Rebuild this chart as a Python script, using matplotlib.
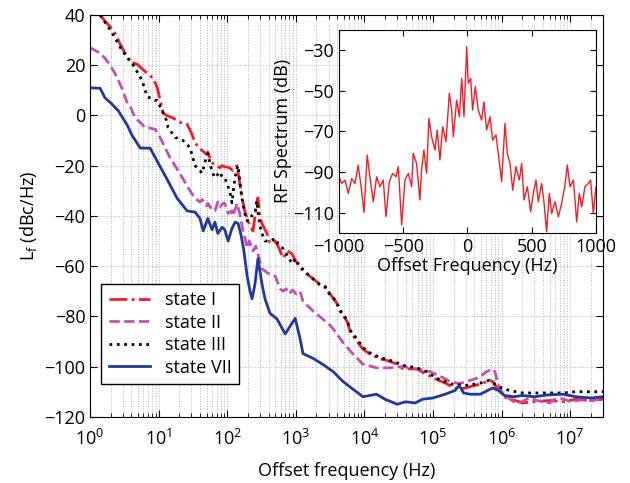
import numpy as np
import matplotlib
matplotlib.use('Agg')
import matplotlib.pyplot as plt

plt.rcParams['font.family'] = ['Open Sans', 'DejaVu Sans']
plt.rcParams['font.size'] = 13
plt.rcParams['mathtext.default'] = 'regular'

# ---- main plot data (offset frequency in Hz, L_f in dBc/Hz) ----
f_state1 = [1.4, 1.6, 2.0, 2.3, 2.7, 3.2, 3.8, 4.8, 5.5, 6.8, 8.3, 9.5, 11.6, 13, 15.6,
            18.6, 22, 26, 30, 34, 43, 50, 52, 58, 62, 70, 78, 84, 92, 99, 110, 121, 139,
            150, 164, 180, 200, 237, 260, 280, 300, 320, 380, 420, 500, 550, 650, 760, 870,
            1000, 1270, 1600, 2250, 2700, 3150, 3900, 4400, 5600, 6200, 7800, 9500, 12000,
            17000, 21000, 30000, 36000, 58000, 80000, 1.1e5, 1.5e5, 1.9e5, 2.4e5, 3e5, 4e5,
            5e5, 6.6e5, 7.5e5, 8.5e5, 1e6, 1.2e6, 1.6e6, 2e6, 3e6, 5e6, 8e6, 1.2e7, 2e7, 3e7]
L_state1 = [40, 38, 35, 32.8, 28.8, 25, 21.2, 20.5, 19, 16.8, 14.8, 11.2, 1, 0, -0.8,
            -2, -3.2, -3.5, -7, -11, -14, -15.5, -14.5, -18, -19.2, -20, -20.8, -20, -20.5,
            -20.5, -21, -22, -20, -26, -32.8, -38, -42, -46, -38, -32.8, -40, -43, -47, -51,
            -50, -52, -56.8, -54, -55, -58, -62, -64, -67.2, -68, -71, -74.5, -78, -82, -86,
            -90, -93, -95, -97, -97.5, -99, -100.8, -101, -103, -105, -106.5, -108, -109,
            -108.5, -107.5, -107, -105.5, -106, -108.5, -110.5, -112.8, -113.5, -114.5, -114,
            -113.5, -114, -113, -113.5, -113]

f_state2 = [1, 1.4, 1.65, 1.96, 2.3, 2.7, 2.9, 3.5, 3.8, 4.5, 5.4, 6.3, 6.8, 8.9, 10.5,
            14.6, 20.5, 28.6, 34, 40, 43, 50, 52, 62, 66, 73, 78, 87, 92, 103, 117, 121, 139,
            153, 170, 182, 195, 210, 237, 260, 320, 390, 420, 500, 590, 650, 720, 800, 900,
            1000, 1150, 1270, 1800, 2500, 3150, 3500, 4900, 6800, 9500, 15000, 23000, 36000,
            60000, 90000, 1.3e5, 1.8e5, 2.4e5, 3e5, 3.8e5, 4.9e5, 6e5, 7.4e5, 8e5, 8.8e5,
            1e6, 1.3e6, 1.5e6, 2e6, 2.5e6, 3.3e6, 5e6, 6e6, 7.9e6, 1e7, 1.5e7, 2e7, 3e7]
L_state2 = [27, 24.8, 22.8, 20, 16.8, 12.8, 11, 4.8, 4, -0.8, -2.8, -4.8, -4.8, -5.5, -8.8,
            -16.8, -23.2, -30, -33, -34.5, -33.5, -36, -35, -38, -38, -34.5, -36.5, -35, -35,
            -39, -38, -40, -35, -39.5, -46, -49, -52.8, -50, -54, -52, -61, -62.8, -63, -64,
            -69, -70, -69, -71, -69.5, -71, -70, -74, -78, -81.2, -83.5, -85, -90.5, -95, -99,
            -100.5, -100.5, -100, -101, -102, -104, -106, -106.8, -106, -105.2, -104, -102,
            -101, -102, -107, -110, -112.8, -114, -114, -112.5, -113.5, -114.5, -113, -112.8,
            -114, -113.2, -113.5, -113]

f_state3 = [1.4, 2.1, 2.9, 4.1, 5.4, 5.7, 6.8, 8.9, 9.5, 11.2, 13, 13.7, 17.4, 18.6, 22.6,
            28.6, 34, 40, 43, 48, 52, 57, 62, 66, 78, 85, 92, 100, 110, 117, 125, 135, 144,
            155, 164, 180, 195, 210, 230, 255, 270, 285, 310, 355, 420, 500, 550, 650, 760,
            880, 980, 1100, 1350, 1600, 2250, 2700, 3150, 3900, 4400, 5600, 6200, 7800, 9500,
            12000, 17000, 21000, 30000, 36000, 58000, 80000, 1.1e5, 1.5e5, 1.9e5, 3e5, 4e5,
            5e5, 6.6e5, 8e5, 1e6, 1.3e6, 2e6, 3e6, 5e6, 8e6, 1.2e7, 2e7, 3e7]
L_state3 = [40, 32.8, 26, 20.8, 15.2, 14, 7.5, 6, 6, 2, -2, -4.8, -8.8, -9, -10,
            -12.8, -20, -22, -23, -18, -15.2, -20, -23.2, -24.8, -22.5, -24.8, -25, -27.2,
            -31, -34.8, -28, -22, -20, -28, -33, -39, -42, -40, -40, -38.5, -34, -40, -46, -50,
            -50, -49, -51, -53, -56, -59, -57, -59.5, -62, -64, -67.5, -68.5, -71.5, -74,
            -77.5, -81.5, -85.5, -89, -92.5, -94.5, -96.5, -97, -98.5, -99.5, -100.5, -102,
            -104.5, -106, -107, -107.5, -107, -106.5, -105.5, -107, -108.5, -109.5, -110.5,
            -110.5, -110.5, -110.5, -110, -110, -110]

f_state7 = [1, 1.4, 1.65, 2.0, 2.56, 3.0, 3.5, 4.1, 5.4, 7.5, 9, 13, 18.6, 26, 34, 40, 44.6,
            52, 60, 66, 73, 84, 92, 103, 117, 130, 144, 160, 175, 195, 215, 230, 254, 280, 300,
            320, 355, 420, 530, 700, 820, 980, 1150, 1270, 1800, 2500, 3500, 4900, 6800, 9500,
            15000, 20000, 30000, 40000, 55000, 70000, 1e5, 1.5e5, 2.1e5, 2.4e5, 2.8e5, 3.5e5,
            4.9e5, 7.4e5, 9e5, 1.1e6, 1.5e6, 2e6, 3e6, 5e6, 8e6, 1.2e7, 2e7, 3e7]
L_state7 = [11, 10.8, 7, 5, 2, -1, -4, -8, -13, -13, -17, -25, -33, -38, -38.5, -41, -46,
            -41, -45.5, -42.5, -47, -44.5, -45.5, -50, -45, -42.5, -43, -48, -54, -64, -70, -73,
            -67, -57, -62, -67, -73, -78.8, -81, -87, -84, -80.8, -88.8, -94.8, -96.8, -99.2,
            -102, -106, -109, -112, -111, -113, -115, -114, -114.5, -113, -112.5, -111, -109.5,
            -107.5, -110.5, -111, -111, -108.5, -109.5, -111.5, -112, -111.5, -112, -111.2,
            -111, -112, -112.5, -112]

# ---- inset data (offset frequency in Hz, RF spectrum in dB) ----
f_rf = [-1000, -979, -953, -927, -901, -875, -850, -824, -805, -780, -759, -733, -707, -681,
        -655, -634, -608, -582, -556, -538, -512, -486, -460, -434, -422, -396, -370, -357,
        -339, -318, -300, -279, -253, -235, -214, -193, -167, -141, -123, -110, -84, -63, -45,
        -27, -6, 6, 25, 40, 61, 84, 110, 128, 149, 175, 196, 222, 240, 266, 292, 310, 331,
        352, 377, 403, 422, 440, 466, 492, 512, 533, 551, 577, 595, 616, 637, 655, 681, 707,
        733, 759, 777, 798, 824, 850, 870, 889, 914, 940, 958, 979, 1000]
rf_db = [-92.4, -95.7, -94, -100.6, -93.2, -95.7, -86.6, -99, -110, -81.7, -92.4, -104.7,
         -92.4, -97.3, -94, -112.1, -94.8, -90.7, -92.4, -87.4, -116.2, -94, -90.7, -97.3,
         -80.8, -85.8, -103.8, -89.1, -79.2, -90.7, -63.6, -72.6, -79.2, -69.3, -84.1, -67.7,
         -75.1, -51.2, -59.5, -72.6, -54.5, -62.8, -43.8, -62.8, -28.2, -46.3, -43.8, -59.5,
         -48, -59.5, -64.4, -55.4, -69.3, -62.8, -74.3, -71.8, -80.8, -94.8, -66.1, -80.8,
         -85.8, -99, -87.4, -94, -85.8, -103.8, -97.3, -109.6, -100.6, -94, -104.7, -95.7,
         -104.7, -119.5, -100.6, -110.5, -104.7, -112.1, -105.5, -96.5, -86.6, -97.3, -94,
         -114.6, -100.6, -107.2, -97.3, -95.7, -94, -110.5, -97.3]

fig = plt.figure(figsize=(6.3, 4.83), dpi=100)
ax = fig.add_axes([0.143, 0.137, 0.814, 0.832])

ax.semilogx(f_state1, L_state1, '-.', color='#f21c24', lw=2, label='state I')
ax.semilogx(f_state2, L_state2, '--', color='#c150b0', lw=2, label='state II')
ax.semilogx(f_state3, L_state3, ':', color='black', lw=2, label='state III')
ax.semilogx(f_state7, L_state7, '-', color='#22379a', lw=2, label='state VII')

ax.set_xlim(1, 3e7)
ax.set_ylim(-120, 40)
ax.set_yticks(np.arange(-120, 41, 20))
ax.set_xticks([1e0, 1e1, 1e2, 1e3, 1e4, 1e5, 1e6, 1e7])
ax.tick_params(direction='in', which='both', top=True, right=True)
ax.tick_params(which='major', length=5)
ax.tick_params(which='minor', length=3)
ax.tick_params(axis='x', which='major', pad=9)
ax.grid(True, which='major', ls=':', color='#b4b4b4', lw=0.7)
ax.grid(True, which='minor', axis='x', ls=':', color='#b4b4b4', lw=0.7)
ax.set_xlabel('Offset frequency (Hz)', labelpad=9)
ax.set_ylabel(r'L$_f$ (dBc/Hz)')

leg = ax.legend(loc='lower left', bbox_to_anchor=(0.022, 0.082), borderaxespad=0,
                fancybox=False, framealpha=1, edgecolor='black', handlelength=2.3,
                borderpad=0.4, labelspacing=0.25)
leg.get_frame().set_linewidth(1)

# inset RF spectrum
axin = fig.add_axes([0.538, 0.518, 0.408, 0.420])
axin.plot(f_rf, rf_db, '-', color='#f21c24', lw=1)
axin.set_xlim(-1000, 1000)
axin.set_ylim(-120, -20)
axin.set_xticks([-1000, -500, 0, 500, 1000])
axin.set_yticks([-30, -50, -70, -90, -110])
axin.tick_params(direction='in', top=True, right=True, length=4)
axin.set_xlabel('Offset Frequency (Hz)', labelpad=1)
axin.set_ylabel('RF Spectrum (dB)', labelpad=1)

fig.savefig('out.png', dpi=100)
